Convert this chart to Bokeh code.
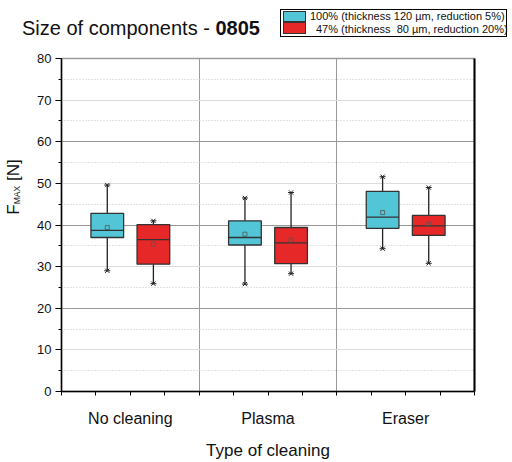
import numpy as np
from bokeh.plotting import figure
from bokeh.layouts import column, row
from bokeh.models import (Range1d, FixedTicker, SingleIntervalTicker, Grid, Div, LinearAxis)
from bokeh.embed import file_html
from bokeh.resources import INLINE

title_text = "Size of components - "
title_bold = "0805"
y_label = ("F", "MAX", "[N]")
x_label = "Type of cleaning"
categories = ["No cleaning", "Plasma", "Eraser"]
series = ["100% (thickness 120 µm, reduction 5%)", "47% (thickness  80 µm, reduction 20%)"]
colors = ["#52C5D6", "#E62828"]

s1_min = [29.0, 25.8, 34.3]
s1_q1 = [37.0, 35.2, 39.2]
s1_med = [38.7, 37.0, 41.9]
s1_q3 = [42.8, 41.0, 48.1]
s1_max = [49.6, 46.5, 51.6]
s1_mean = [39.4, 37.8, 43.0]

s2_min = [25.9, 28.3, 30.8]
s2_q1 = [30.6, 30.7, 37.5]
s2_med = [36.5, 35.7, 39.8]
s2_q3 = [40.1, 39.4, 42.3]
s2_max = [41.0, 47.8, 49.0]
s2_mean = [35.4, 36.4, 40.2]

FONT = "Liberation Sans"
group_w = 4
centers = np.arange(len(categories)) * group_w + group_w / 2
offsets = [-0.67, 0.67]
box_w = 0.95

p = figure(width=480, height=414, x_range=Range1d(0, 12), y_range=Range1d(0, 80),
           output_backend="svg", toolbar_location=None,
           min_border_left=31, min_border_right=36, min_border_top=10, min_border_bottom=70)
p.background_fill_color = "white"
p.border_fill_color = "white"
p.outline_line_color = "#9a9a9a"
p.outline_line_width = 1.5

# y axis
p.yaxis.ticker = SingleIntervalTicker(interval=10, num_minor_ticks=2)
p.yaxis.axis_line_color = "black"
p.yaxis.axis_line_width = 1.5
p.yaxis.major_tick_out = 6
p.yaxis.major_tick_in = 0
p.yaxis.minor_tick_out = 3
p.yaxis.minor_tick_in = 0
p.yaxis.major_tick_line_width = 1.2
p.yaxis.major_label_text_font = FONT
p.yaxis.major_label_text_font_size = "13px"
p.yaxis.major_label_text_color = "#111111"
p.yaxis.major_label_standoff = 4

# x axis: category labels at group centres, minor ticks every unit
p.xaxis.ticker = FixedTicker(ticks=list(centers), minor_ticks=list(range(13)))
p.xaxis.major_label_overrides = {float(c): n for c, n in zip(centers, categories)}
p.xaxis.axis_line_color = "black"
p.xaxis.axis_line_width = 1.5
p.xaxis.major_tick_out = 0
p.xaxis.major_tick_in = 0
p.xaxis.minor_tick_out = 4
p.xaxis.minor_tick_in = 0
p.xaxis.major_label_standoff = 14
p.xaxis.major_label_text_font = FONT
p.xaxis.major_label_text_font_size = "16px"
p.xaxis.major_label_text_color = "#111111"
p.xaxis.axis_label = x_label
p.xaxis.axis_label_text_font = FONT
p.xaxis.axis_label_text_font_size = "17px"
p.xaxis.axis_label_text_font_style = "normal"
p.xaxis.axis_label_text_color = "#111111"
p.xaxis.axis_label_standoff = 11

# right black border axis
rax = LinearAxis(ticker=FixedTicker(ticks=[]), axis_line_color="black", axis_line_width=2,
                 major_label_text_font_size="0px", minor_tick_line_color=None,
                 major_tick_line_color=None)
p.add_layout(rax, "right")

# grids
sep = list(range(group_w, 12, group_w))
p.xgrid.ticker = FixedTicker(ticks=sep)
p.xgrid.grid_line_color = "#9a9a9a"
p.ygrid.ticker = FixedTicker(ticks=list(range(20, 80, 20)))
p.ygrid.grid_line_color = "#9a9a9a"
p.add_layout(Grid(dimension=1, ticker=FixedTicker(ticks=list(range(10, 80, 20))),
                  grid_line_color="#dcdcdc"))
p.add_layout(Grid(dimension=1, ticker=FixedTicker(ticks=list(range(5, 80, 10))),
                  grid_line_color="#c4c4c4", grid_line_dash="1 2"))

data = [
    (s1_min, s1_q1, s1_med, s1_q3, s1_max, s1_mean),
    (s2_min, s2_q1, s2_med, s2_q3, s2_max, s2_mean),
]
for i, (mn, q1, md, q3, mx, mean) in enumerate(data):
    xs = centers + offsets[i]
    p.segment(x0=xs, x1=xs, y0=q3, y1=mx, line_color="#222222", line_width=1.3)
    p.segment(x0=xs, x1=xs, y0=q1, y1=mn, line_color="#222222", line_width=1.3)
    p.vbar(x=xs, width=box_w, bottom=q1, top=q3, fill_color=colors[i],
           line_color="#333333", line_width=1.3)
    p.segment(x0=xs - box_w / 2, x1=xs + box_w / 2, y0=md, y1=md,
              line_color="#333333", line_width=1.3)
    p.scatter(xs, mx, marker="x", size=6, line_color="#222222", line_width=1)
    p.scatter(xs, mn, marker="x", size=6, line_color="#222222", line_width=1)
    p.scatter(xs, mx, marker="dash", size=6, line_color="#222222", line_width=1)
    p.scatter(xs, mn, marker="dash", size=6, line_color="#222222", line_width=1)
    p.scatter(xs, mean, marker="square", size=4, fill_alpha=0, line_color="#555555",
              line_width=0.8)

base = f"font-family:'{FONT}',Arial,sans-serif;color:#111111;"
header_html = f"""
<div style="position:relative;width:510px;height:48px;{base}">
  <div style="position:absolute;left:22px;top:16px;font-size:20px;line-height:24px;white-space:nowrap;">{title_text}<b>{title_bold}</b></div>
  <div style="position:absolute;left:280px;top:9px;width:227px;height:28px;border:1px solid #000;box-sizing:border-box;background:#fff;">
    <div style="position:absolute;left:2px;top:1px;width:23px;height:11px;background:{colors[0]};border:1px solid #333;box-sizing:border-box;"></div>
    <div style="position:absolute;left:2px;top:12px;width:23px;height:12px;background:{colors[1]};border:1px solid #333;box-sizing:border-box;"></div>
    <div style="position:absolute;left:29px;top:0px;font-size:11px;line-height:13px;white-space:pre;">{series[0]}</div>
    <div style="position:absolute;left:35px;top:13px;font-size:11px;line-height:13px;white-space:pre;">{series[1]}</div>
  </div>
</div>
"""
header = Div(text=header_html, width=510, height=48, margin=0)

ylabel_html = f"""
<div style="position:relative;width:30px;height:414px;{base}">
  <div style="position:absolute;left:15px;top:139px;transform:translate(-50%,-50%) rotate(-90deg);white-space:nowrap;font-size:17px;line-height:20px;">{y_label[0]}<span style="font-size:8.5px;vertical-align:-1px;">{y_label[1]}</span> {y_label[2]}</div>
</div>
"""
ylab = Div(text=ylabel_html, width=30, height=414, margin=0)

layout = column(header, row(ylab, p, spacing=0), spacing=0)

open("out.html", "w").write(file_html(layout, INLINE))
